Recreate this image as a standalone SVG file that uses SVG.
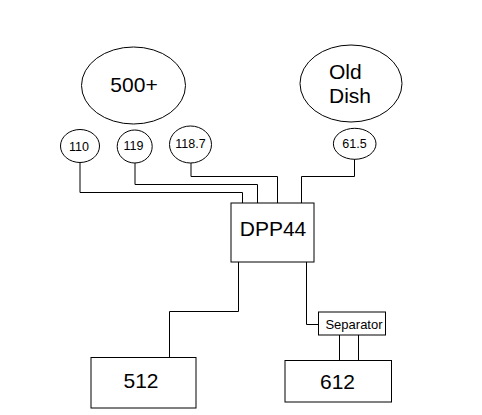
<svg xmlns="http://www.w3.org/2000/svg" width="482" height="415" viewBox="0 0 482 415">
<style>
.s{fill:#fff;stroke:#000;stroke-width:1}
.c{fill:none;stroke:#000;stroke-width:1}
text{font-family:"Liberation Sans",Arial,sans-serif;fill:#000}
.big{font-size:21px}
.sm{font-size:12.5px}
</style>
<rect width="482" height="415" fill="#fff"/>
<g id="connectors">
<polyline class="c" points="80,162 80,192.5 242.5,192.5 242.5,203"/>
<polyline class="c" points="135,163 135,184.5 257.5,184.5 257.5,203"/>
<polyline class="c" points="191,163 191,176.5 277.5,176.5 277.5,203"/>
<polyline class="c" points="354.5,159 354.5,176.5 301.5,176.5 301.5,203"/>
<polyline class="c" points="238.5,262 238.5,311.5 169.5,311.5 169.5,357"/>
<polyline class="c" points="306.5,262 306.5,324.5 318.5,324.5"/>
<line class="c" x1="339.5" y1="335" x2="339.5" y2="360"/>
<line class="c" x1="358.5" y1="335" x2="358.5" y2="360"/>
</g>
<g id="n500"><ellipse class="s" cx="133.5" cy="85.5" rx="52" ry="38.5"/><text class="big" x="134" y="92" text-anchor="middle">500+</text></g>
<g id="nOldDish"><ellipse class="s" cx="351" cy="83.5" rx="51" ry="38.5"/><text class="big" x="329" y="79">Old</text><text class="big" x="329" y="102.5">Dish</text></g>
<g id="n110"><ellipse class="s" cx="80" cy="146" rx="19.5" ry="16.5"/><text class="sm" x="79" y="150.5" text-anchor="middle">110</text></g>
<g id="n119"><ellipse class="s" cx="134.7" cy="146.5" rx="17.5" ry="16.5"/><text class="sm" x="133.5" y="149.5" text-anchor="middle">119</text></g>
<g id="n1187"><ellipse class="s" cx="190.5" cy="144.5" rx="21" ry="18.5"/><text class="sm" x="190.5" y="148" text-anchor="middle">118.7</text></g>
<g id="n615"><ellipse class="s" cx="354.7" cy="143.8" rx="21.3" ry="15.5"/><text class="sm" x="354.5" y="147.5" text-anchor="middle">61.5</text></g>
<g id="nDPP44"><rect class="s" x="231" y="203" width="83" height="59"/><text class="big" x="273" y="235.5" text-anchor="middle">DPP44</text></g>
<g id="nSeparator"><rect class="s" x="318.5" y="312" width="67" height="23"/><text x="354" y="329" font-size="13" text-anchor="middle">Separator</text></g>
<g id="n512"><rect class="s" x="91" y="357.5" width="105" height="50.5"/><text class="big" x="141" y="387.5" text-anchor="middle">512</text></g>
<g id="n612"><rect class="s" x="285" y="360.5" width="106.5" height="41.5"/><text class="big" x="337.5" y="388.5" text-anchor="middle">612</text></g>
</svg>
